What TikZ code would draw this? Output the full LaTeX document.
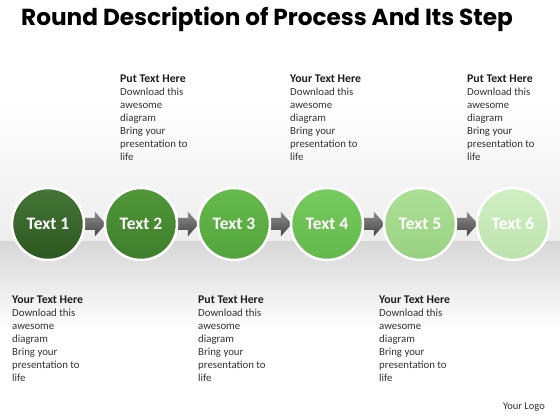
\documentclass[tikz,border=0pt]{standalone}
\usepackage{fontspec}
\setmainfont{Carlito}
\newfontfamily\titlefont{Poppins}
\usetikzlibrary{calc}

\definecolor{headgray}{HTML}{1E1E1E}
\definecolor{textgray}{HTML}{333333}
\definecolor{bandtop}{HTML}{EDEDED}
\definecolor{bandlow}{HTML}{D7D7D7}
\definecolor{arrowlight}{HTML}{8E8E8E}
\definecolor{arrowdark}{HTML}{454545}
\definecolor{gOneT}{HTML}{457636}
\definecolor{gOneB}{HTML}{2C5721}
\definecolor{gTwoT}{HTML}{519739}
\definecolor{gTwoB}{HTML}{3F7E2C}
\definecolor{gThreeT}{HTML}{66BA4C}
\definecolor{gThreeB}{HTML}{53A33C}
\definecolor{gFourT}{HTML}{78CB5E}
\definecolor{gFourB}{HTML}{64B94C}
\definecolor{gFiveT}{HTML}{ADDF97}
\definecolor{gFiveB}{HTML}{99D182}
\definecolor{gSixT}{HTML}{D0EFC3}
\definecolor{gSixB}{HTML}{BDE3AD}

\pgfdeclarelayer{bg}
\pgfdeclarelayer{links}
\pgfsetlayers{bg,links,main}

\tikzset{
  stepball/.style={circle, minimum size=72pt, inner sep=0pt, draw=white, line width=2.5pt,
    font=\bfseries\fontsize{17.5}{19}\selectfont, text=white},
  blurb/.style={anchor=north west, inner sep=0pt, align=left,
    font=\fontsize{10.8}{13}\selectfont, text=textgray},
}
\newcommand{\blurbtext}[1]{{\fontsize{11.8}{13}\selectfont\bfseries\color{headgray}#1}\\Download this\\awesome\\diagram\\Bring your\\presentation to\\life}

\begin{document}
\begin{tikzpicture}[x=1pt, y=1pt]
    \useasboundingbox (0,0) rectangle (560,420);

    % Hintergrund
    \begin{pgfonlayer}{bg}
        \fill[white] (0,0) rectangle (560,420);
        \shade[top color=white, bottom color=bandtop] (0,320) rectangle (560,178);
        \shade[top color=bandlow, bottom color=white] (0,178) rectangle (560,90);
    \end{pgfonlayer}

    % Titel
    \node[anchor=base west, inner sep=0pt, font=\titlefont\bfseries\fontsize{23.2}{26}\selectfont] (title)
        at (21,394) {Round Description of Process And Its Step};

    % Kreise
    \foreach \i/\ct/\cb in {1/gOneT/gOneB, 2/gTwoT/gTwoB, 3/gThreeT/gThreeB,
                            4/gFourT/gFourB, 5/gFiveT/gFiveB, 6/gSixT/gSixB}
        \node[stepball, top color=\ct, bottom color=\cb] (t\i) at ({48+93*(\i-1)},196) {Text \i};

    % Pfeile
    \begin{pgfonlayer}{links}
        \foreach \a/\b in {1/2, 2/3, 3/4, 4/5, 5/6}
            \shade[top color=arrowlight, bottom color=arrowdark]
                ($(t\a.east)+(-6,6)$) -- ($(t\b.west)+(-9,6)$) -- ($(t\b.west)+(-9,12.5)$)
                -- ($(t\b.west)+(2,0)$) -- ($(t\b.west)+(-9,-12.5)$) -- ($(t\b.west)+(-9,-6)$)
                -- ($(t\a.east)+(-6,-6)$) -- cycle;
    \end{pgfonlayer}

    % Texte oben
    \node[blurb] (top2) at (120,345) {\blurbtext{Put Text Here}};
    \node[blurb] (top4) at (290,345) {\blurbtext{Your Text Here}};
    \node[blurb] (top6) at (467,345) {\blurbtext{Put Text Here}};

    % Texte unten
    \node[blurb] (bot1) at (12,124) {\blurbtext{Your Text Here}};
    \node[blurb] (bot3) at (198,124) {\blurbtext{Put Text Here}};
    \node[blurb] (bot5) at (379,124) {\blurbtext{Your Text Here}};

    \node[anchor=base east, inner sep=0pt, text=textgray, font=\fontsize{10.5}{12}\selectfont] (logo)
        at (545,10) {Your Logo};
\end{tikzpicture}
\end{document}
